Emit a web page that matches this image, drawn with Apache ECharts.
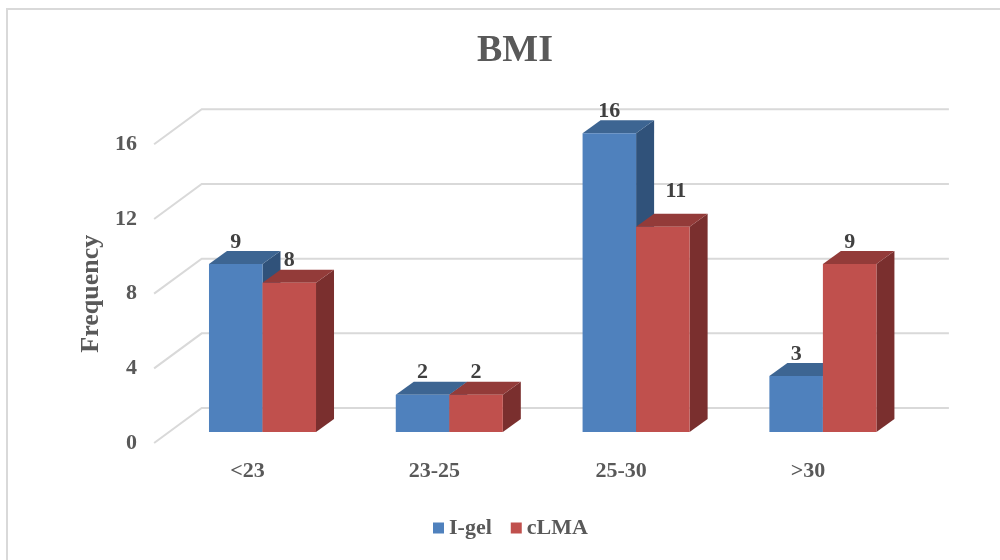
<!DOCTYPE html>
<html>
<head>
<meta charset="utf-8">
<script src="https://cdn.jsdelivr.net/npm/echarts@6/dist/echarts.min.js"></script>
<style>
  html, body { margin: 0; padding: 0; background: #fff; }
  #chart { width: 1000px; height: 560px; }
</style>
</head>
<body>
<div id="chart"></div>
<script>
// BMI distribution per airway device
const categories = ['<23', '23-25', '25-30', '>30'];
const igelValues = [9, 2, 16, 3];
const clmaValues = [8, 2, 11, 9];
const yTicks = [0, 4, 8, 12, 16];

const FONT = '"Liberation Serif", "Times New Roman", serif';
const TEXT_COLOR = '#595959';

// Oblique projection offsets in pixels, relative to the plane of the bar fronts
const DEPTH = { dx: 18, dy: -13 };    // thickness of each bar
const WALL = { dx: 32.6, dy: -24 };   // back wall
const FLOOR = { dx: -15, dy: 11 };    // front edge of the floor
const BAR_FRAC = 0.2865;              // one bar's width as a share of its category band
const LABEL_GAP = 22;                 // value label centre above the bar top

const shades = {
  'I-gel': { front: '#4F81BD', top: '#3D6592', side: '#30527A' },
  'cLMA':  { front: '#C0504D', top: '#933B39', side: '#7A2F2E' }
};

// Draws a prism: side, top, front and the value label above it.
// side = -1 puts the bar left of the category centre, 0 puts it right of it.
// leftValues: values of the bar standing immediately to the left (if any);
// when that bar is much taller the label moves back over the top face.
function barRenderer(name, side, leftValues) {
  const c = shades[name];
  return function (params, api) {
    const idx = api.value(0);
    const v = api.value(1);
    const top = api.coord([idx, v]);
    const base = api.coord([idx, 0]);
    const w = api.size([1, 0])[0] * BAR_FRAC;
    const x0 = top[0] + side * w;
    const x1 = x0 + w;
    const yT = top[1];
    const yB = base[1];
    const dx = DEPTH.dx, dy = DEPTH.dy;
    let lx = (x0 + x1) / 2, ly = yT - LABEL_GAP;
    if (leftValues && leftValues[idx] - v >= 3) {
      lx += dx * 0.72;
      ly += dy;
    }
    return {
      type: 'group',
      children: [
        { type: 'polygon',
          shape: { points: [[x1, yB], [x1 + dx, yB + dy], [x1 + dx, yT + dy], [x1, yT]] },
          style: { fill: c.side } },
        { type: 'polygon',
          shape: { points: [[x0, yT], [x0 + dx, yT + dy], [x1 + dx, yT + dy], [x1, yT]] },
          style: { fill: c.top } },
        { type: 'rect',
          shape: { x: x0, y: yT, width: w, height: yB - yT },
          style: { fill: c.front } },
        { type: 'text',
          style: { text: String(v), x: lx, y: ly,
                   align: 'center', verticalAlign: 'middle',
                   font: 'bold 22px ' + FONT, fill: '#404040' } }
      ]
    };
  };
}

// Gridline on the floor edge + back wall for each tick value
function gridRenderer(params, api) {
  const v = api.value(1);
  const cs = params.coordSys;
  const y = api.coord([0, v])[1];
  const xl = cs.x, xr = cs.x + cs.width;
  return {
    type: 'polyline',
    shape: { points: [[xl + FLOOR.dx, y + FLOOR.dy], [xl + WALL.dx, y + WALL.dy], [xr + WALL.dx, y + WALL.dy]] },
    style: { stroke: '#D9D9D9', lineWidth: 2, fill: null }
  };
}

const labelStyle = { fontFamily: FONT, fontWeight: 'bold', fontSize: 22, color: TEXT_COLOR };

const chart = echarts.init(document.getElementById('chart'), null, { renderer: 'canvas' });
chart.setOption({
  animation: false,
  backgroundColor: '#fff',
  title: {
    text: 'BMI',
    left: 510,
    top: 27,
    textAlign: 'center',
    textStyle: { fontFamily: FONT, fontWeight: 'bold', fontSize: 38, color: TEXT_COLOR }
  },
  legend: {
    left: 428,
    top: 512,
    icon: 'rect',
    itemWidth: 11,
    itemHeight: 11,
    itemGap: 19,
    textStyle: labelStyle,
    data: ['I-gel', 'cLMA']
  },
  graphic: [{
    type: 'rect',
    shape: { x: 7, y: 9, width: 1200, height: 800 },
    style: { fill: null, stroke: '#D9D9D9', lineWidth: 2 },
    silent: true
  }],
  grid: [
    // front edge of the floor: carries the axis labels
    { left: 154.1, right: 98.7, top: 144.3, bottom: 117 },
    // plane of the bar fronts
    { left: 169.1, right: 83.7, top: 133.3, bottom: 128 }
  ],
  xAxis: [
    { gridIndex: 0, type: 'category', data: categories,
      axisLine: { show: false }, axisTick: { show: false },
      axisLabel: Object.assign({ margin: 17 }, labelStyle) },
    { gridIndex: 1, type: 'category', data: categories, show: false }
  ],
  yAxis: [
    { gridIndex: 0, type: 'value', min: 0, max: 16, interval: 4,
      splitLine: { show: false }, axisLine: { show: false }, axisTick: { show: false },
      axisLabel: Object.assign({ margin: 17 }, labelStyle),
      name: 'Frequency', nameLocation: 'middle', nameGap: 50,
      nameTextStyle: { fontFamily: FONT, fontWeight: 'bold', fontSize: 26, color: TEXT_COLOR } },
    { gridIndex: 1, type: 'value', min: 0, max: 16, interval: 4, show: false }
  ],
  series: [
    { type: 'custom', name: 'gridlines', xAxisIndex: 1, yAxisIndex: 1, silent: true, z: 1,
      renderItem: gridRenderer, data: yTicks.map(v => [0, v]) },
    { type: 'custom', name: 'I-gel', xAxisIndex: 1, yAxisIndex: 1, z: 2,
      itemStyle: { color: shades['I-gel'].front },
      renderItem: barRenderer('I-gel', -1, null), data: igelValues.map((v, i) => [i, v]) },
    { type: 'custom', name: 'cLMA', xAxisIndex: 1, yAxisIndex: 1, z: 3,
      itemStyle: { color: shades['cLMA'].front },
      renderItem: barRenderer('cLMA', 0, igelValues), data: clmaValues.map((v, i) => [i, v]) }
  ]
});
</script>
</body>
</html>
